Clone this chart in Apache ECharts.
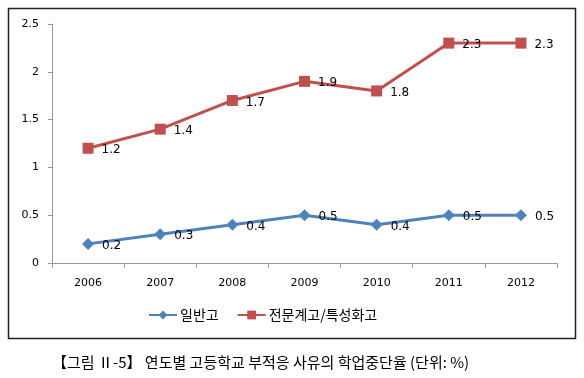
<!DOCTYPE html>
<html><head><meta charset="utf-8">
<script src="https://cdn.jsdelivr.net/npm/echarts@6/dist/echarts.min.js"></script>
<style>html,body{margin:0;padding:0;background:#fff}#c{width:584px;height:378px}</style>
</head><body><div id="c"></div>
<script>
const categories = ['2006','2007','2008','2009','2010','2011','2012'];
const seriesNames = ['일반고','전문계고/특성화고'];
const general = [0.2,0.3,0.4,0.5,0.4,0.5,0.5];
const vocational = [1.2,1.4,1.7,1.9,1.8,2.3,2.3];
const yTicks = [0,0.5,1,1.5,2,2.5];
const caption = '【그림 Ⅱ-5】 연도별 고등학교 부적응 사유의 학업중단율 (단위: %)';

const chart = echarts.init(document.getElementById('c'));
const lbl = {show:true, position:'right', distance:8, offset:[0,2], color:'#000', fontSize:12, fontFamily:'"DejaVu Sans", sans-serif'};
chart.setOption({
  animation:false,
  graphic:[
    {type:'rect', shape:{x:8.5,y:8.5,width:567,height:330}, style:{fill:'none', stroke:'#222', lineWidth:1.5}, z:-1},
    {type:'text', left:52, top:355, style:{text:caption, fill:'#000', font:'15px "Noto Sans CJK KR", sans-serif'}}
  ],
  grid:{left:52, right:27, top:24, bottom:115, containLabel:false},
  legend:{top:303, left:143, itemWidth:28, itemHeight:11, itemGap:18,
    textStyle:{fontSize:14, color:'#000', fontFamily:'"Noto Sans CJK KR", sans-serif', padding:[0,0,0,-2]},
    data:seriesNames},
  xAxis:{type:'category', data:categories, boundaryGap:true,
    axisLine:{lineStyle:{color:'#999'}}, axisTick:{show:true, length:5, lineStyle:{color:'#999'}},
    axisLabel:{color:'#000', fontSize:11, margin:15, fontFamily:'"DejaVu Sans", sans-serif'}},
  yAxis:{type:'value', min:0, max:2.5, interval:0.5,
    axisLine:{show:true, lineStyle:{color:'#999'}}, axisTick:{show:true, length:4, lineStyle:{color:'#999'}},
    splitLine:{show:false},
    axisLabel:{color:'#000', fontSize:11, margin:13, fontFamily:'"DejaVu Sans", sans-serif',
      formatter:v=>yTicks.includes(v)?String(v):''}},
  series:[
    {name:seriesNames[0], type:'line', data:general, symbol:'diamond', symbolSize:12,
      itemStyle:{color:'#4F81BD'}, lineStyle:{width:3, color:'#4F81BD'}, label:lbl},
    {name:seriesNames[1], type:'line', data:vocational, symbol:'rect', symbolSize:11,
      itemStyle:{color:'#C0504D'}, lineStyle:{width:3, color:'#C0504D'}, label:lbl}
  ]
});
</script></body></html>
